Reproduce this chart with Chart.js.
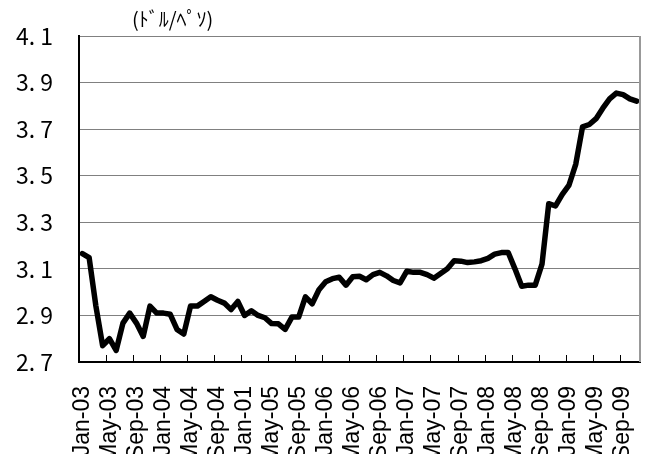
<!DOCTYPE html>
<html>
<head>
<meta charset="utf-8">
<script src="https://cdn.jsdelivr.net/npm/chart.js@4/dist/chart.umd.min.js"></script>
<style>
    html, body { margin: 0; padding: 0; background: #fff; }
    #wrap { width: 648px; height: 454px; position: relative; }
</style>
</head>
<body>
<div id="wrap"><canvas id="line-chart" width="648" height="454"></canvas></div>
<script>
// monthly, Jan-03 .. Nov-09
var years = ["03", "04", "05", "06", "07", "08", "09"];
var monthNames = ["Jan", "Feb", "Mar", "Apr", "May", "Jun", "Jul", "Aug", "Sep", "Oct", "Nov", "Dec"];

// labels shown under the axis (every 4th month, as in the original incl. "Jan-01")
var tickLabels = ["Jan-03", "May-03", "Sep-03", "Jan-04", "May-04", "Sep-04", "Jan-01",
    "May-05", "Sep-05", "Jan-06", "May-06", "Sep-06", "Jan-07", "May-07", "Sep-07",
    "Jan-08", "May-08", "Sep-08", "Jan-09", "May-09", "Sep-09"];

// ドル/ペソ
var rates = [
    3.165, 3.148, 2.94, 2.77, 2.80, 2.75, 2.867, 2.91, 2.867, 2.81, 2.94, 2.91,
    2.91, 2.905, 2.84, 2.82, 2.94, 2.94, 2.96, 2.98, 2.965, 2.953, 2.925, 2.96,
    2.90, 2.92, 2.90, 2.89, 2.865, 2.864, 2.84, 2.893, 2.893, 2.98, 2.95, 3.01,
    3.045, 3.058, 3.064, 3.03, 3.066, 3.068, 3.053, 3.075, 3.085, 3.07, 3.05, 3.04,
    3.09, 3.085, 3.085, 3.075, 3.06, 3.08, 3.10, 3.135, 3.133, 3.127, 3.13, 3.135,
    3.145, 3.163, 3.17, 3.17, 3.10, 3.025, 3.03, 3.03, 3.12, 3.38, 3.37, 3.42,
    3.46, 3.55, 3.71, 3.72, 3.745, 3.79, 3.83, 3.855, 3.848, 3.83, 3.82
];

var categories = [];
for (var y = 0; y < years.length; y++) {
    for (var m = 0; m < monthNames.length; m++) {
        if (categories.length < rates.length) categories.push(monthNames[m] + "-" + years[y]);
    }
}

var yMin = 2.7, yMax = 4.1, yStep = 0.2;

// frame bits Excel draws: gray right border, short inward tick marks on x axis, unit label
var framePlugin = {
    id: "frame",
    afterDraw: function (chart) {
        var ctx = chart.ctx, area = chart.chartArea, xs = chart.scales.x;
        ctx.save();
        ctx.strokeStyle = "#999999";
        ctx.lineWidth = 2;
        ctx.beginPath();
        ctx.moveTo(area.right, area.top);
        ctx.lineTo(area.right, area.bottom);
        ctx.stroke();

        ctx.strokeStyle = "#000";
        ctx.lineWidth = 1;
        var half = (xs.getPixelForValue(1) - xs.getPixelForValue(0)) / 2;
        for (var i = 4; i < categories.length; i += 4) {
            var x = Math.round(xs.getPixelForValue(i) - half) + 0.5;
            ctx.beginPath();
            ctx.moveTo(x, area.bottom);
            ctx.lineTo(x, area.bottom - 7);
            ctx.stroke();
        }

        ctx.fillStyle = "#000";
        ctx.font = "20px 'Noto Sans CJK JP'";
        ctx.textBaseline = "middle";
        ctx.fillText("(ﾄﾞﾙ/ﾍﾟｿ)", area.left + 53, 19);
        ctx.restore();
    }
};

new Chart(document.getElementById("line-chart"), {
    type: "line",
    data: {
        labels: categories,
        datasets: [{
            data: rates,
            borderColor: "#000",
            borderWidth: 5.5,
            borderJoinStyle: "round",
            borderCapStyle: "round",
            pointRadius: 0,
            tension: 0,
            fill: false
        }]
    },
    options: {
        responsive: false,
        animation: false,
        devicePixelRatio: 1,
        layout: { padding: { top: 36, right: 8, left: 0, bottom: 0 } },
        plugins: {
            legend: { display: false },
            title: { display: false },
            tooltip: { enabled: false }
        },
        scales: {
            x: {
                type: "category",
                offset: true,
                grid: { display: false, drawTicks: false },
                border: { color: "#000", width: 2 },
                ticks: {
                    autoSkip: false,
                    maxRotation: 90,
                    minRotation: 90,
                    padding: 24,
                    color: "#000",
                    font: { family: "'Liberation Sans'", size: 23 },
                    callback: function (val, idx) {
                        return idx % 4 === 0 ? tickLabels[idx / 4] : "";
                    }
                },
                afterFit: function (scale) {
                    scale.height = 92;
                    scale.paddingLeft = 0;
                    scale.paddingRight = 0;
                }
            },
            y: {
                min: yMin,
                max: yMax,
                grid: { color: "#808080", lineWidth: 1, drawTicks: false },
                border: { color: "#000", width: 2 },
                ticks: {
                    stepSize: yStep,
                    padding: 26,
                    color: "#000",
                    font: { family: "'Noto Sans CJK JP'", size: 23 },
                    callback: function (value) {
                        return value.toFixed(1).replace(".", ". ");
                    }
                },
                afterFit: function (scale) {
                    scale.width = 79;
                    scale.paddingTop = 0;
                    scale.paddingBottom = 0;
                }
            }
        }
    },
    plugins: [framePlugin]
});
</script>
</body>
</html>
